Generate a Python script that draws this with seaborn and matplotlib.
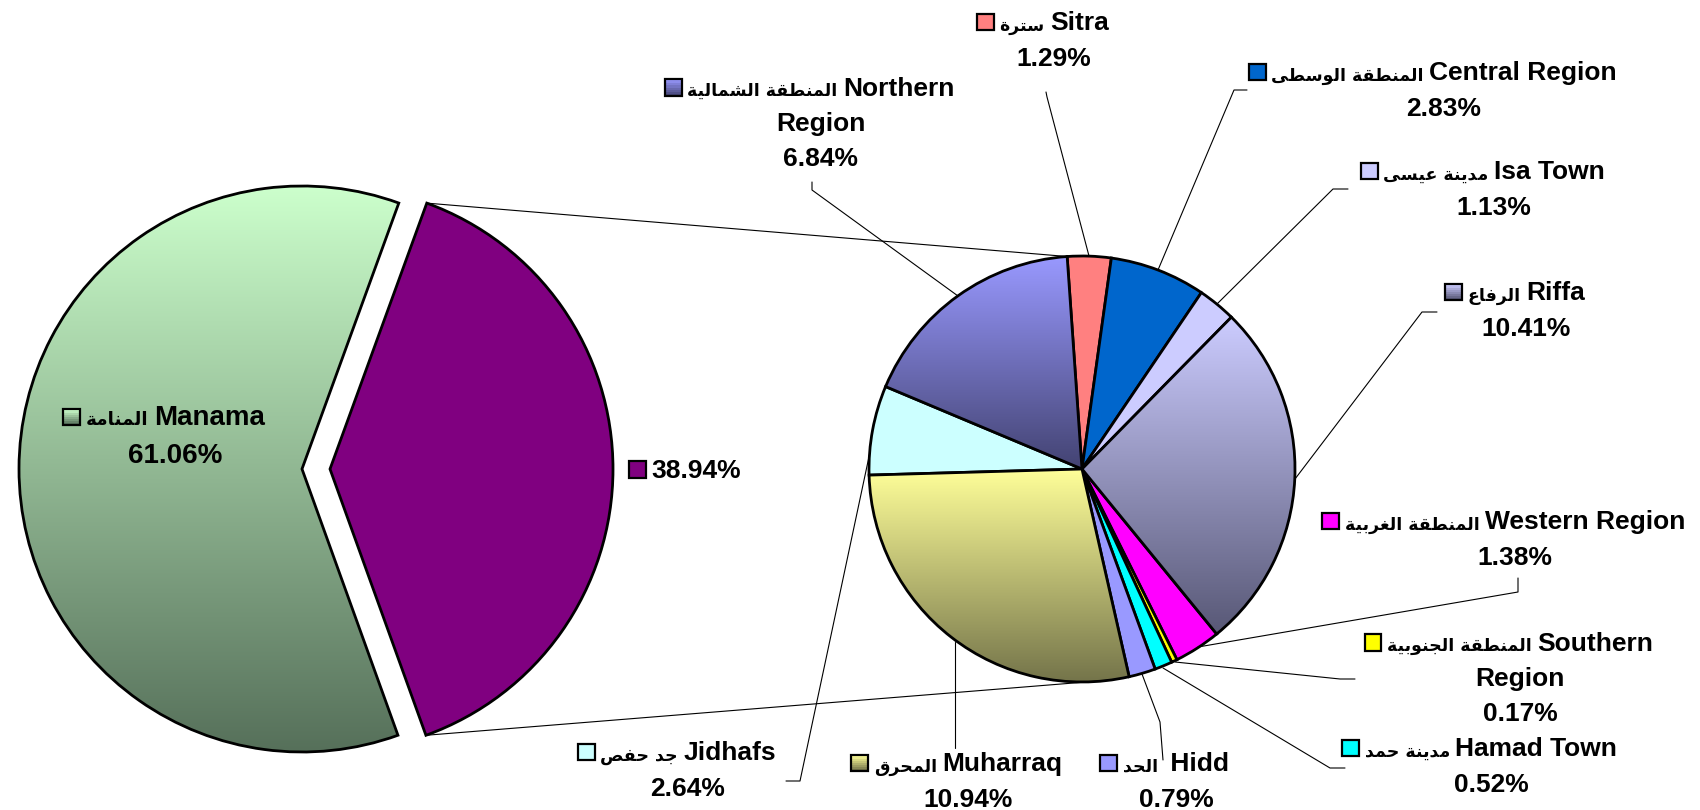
import numpy as np
import matplotlib
matplotlib.use('Agg')
import matplotlib.pyplot as plt
import seaborn as sns
from matplotlib.patches import Rectangle
from matplotlib.offsetbox import AnnotationBbox, DrawingArea, HPacker, TextArea, VPacker

# Data
main_names = ['Manama', '']
main_ar = ['المنامة', '']
main_values = [61.06, 38.94]

sub_names = ['Sitra', 'Central Region', 'Isa Town', 'Riffa', 'Western Region',
             'Southern\nRegion', 'Hamad Town', ' Hidd', 'Muharraq', 'Jidhafs',
             'Northern\nRegion']
sub_ar = ['سترة', 'المنطقة الوسطى', 'مدينة عيسى', 'الرفاع', 'المنطقة الغربية',
          'المنطقة الجنوبية', 'مدينة حمد', 'الحد', 'المحرق', 'جد حفص',
          'المنطقة الشمالية']
sub_values = [1.29, 2.83, 1.13, 10.41, 1.38, 0.17, 0.52, 0.79, 10.94, 2.64, 6.84]

# colours: plain colour or (top, bottom) gradient
main_colors = [('#ccffcc', '#56705a'), '#800080']
sub_colors = ['#ff8080', '#0066cc', '#ccccff', ('#ccccff', '#585876'), '#ff00ff',
              '#ffff00', '#00ffff', '#9999ff', ('#ffff99', '#74744a'), '#ccffff',
              ('#9999ff', '#434372')]

# Arabic shaping (matplotlib has no shaping / bidi)
AR_FORMS = {
    'ا': (0xFE8D, False), 'ب': (0xFE8F, True), 'ة': (0xFE93, False), 'ت': (0xFE95, True),
    'ج': (0xFE9D, True), 'ح': (0xFEA1, True), 'د': (0xFEA9, False), 'ر': (0xFEAD, False),
    'س': (0xFEB1, True), 'ش': (0xFEB5, True), 'ص': (0xFEB9, True), 'ط': (0xFEC1, True),
    'ع': (0xFEC9, True), 'غ': (0xFECD, True), 'ف': (0xFED1, True), 'ق': (0xFED5, True),
    'ل': (0xFEDD, True), 'م': (0xFEE1, True), 'ن': (0xFEE5, True), 'ه': (0xFEE9, True),
    'و': (0xFEED, False), 'ى': (0xFEEF, False), 'ي': (0xFEF1, True),
}


def shape_ar(s):
    out = []
    for i, ch in enumerate(s):
        if ch not in AR_FORMS:
            out.append(ch)
            continue
        base, dual = AR_FORMS[ch]
        prev = s[i - 1] if i > 0 else ''
        nxt = s[i + 1] if i + 1 < len(s) else ''
        jp = prev in AR_FORMS and AR_FORMS[prev][1]
        jn = dual and nxt in AR_FORMS
        if jp and jn:
            code = base + 3
        elif jp:
            code = base + 1
        elif jn:
            code = base + 2
        else:
            code = base
        out.append(chr(code))
    return ''.join(out[::-1])


W, H = 1700, 810
sns.set_theme(style='white')
FONT = ['Liberation Sans', 'DejaVu Sans']
plt.rcParams['font.family'] = FONT

fig = plt.figure(figsize=(W / 100, H / 100), dpi=100)
ax = fig.add_axes([0, 0, 1, 1])

wp = dict(edgecolor='black', linewidth=2.0)


def flat(c):
    return c if isinstance(c, str) else c[0]


def add_gradients(wedges, colors):
    for w, c in zip(wedges, colors):
        if isinstance(c, str):
            continue
        ext = w.get_path().get_extents()
        cmap = sns.blend_palette([c[0], c[1]], as_cmap=True)
        grad = np.linspace(0, 1, 256).reshape(-1, 1)
        im = ax.imshow(grad, cmap=cmap, extent=(ext.x0, ext.x1, ext.y0, ext.y1),
                       origin='upper', aspect='auto', interpolation='bilinear', zorder=1)
        im.set_clip_path(w)
        w.set_facecolor('none')
        w.set_zorder(2)


left_c = (302, H - 469)
right_c = (1082, H - 469)

# explode is in data units (px here)
w1, _ = ax.pie(main_values, colors=[flat(c) for c in main_colors], startangle=70,
               counterclock=True, explode=[0, 28], center=left_c, radius=283,
               wedgeprops=wp, frame=True)
add_gradients(w1, main_colors)

w2, _ = ax.pie(sub_values, colors=[flat(c) for c in sub_colors], startangle=94,
               counterclock=False, center=right_c, radius=213, wedgeprops=wp, frame=True)
add_gradients(w2, sub_colors)

# connector lines between the pies
other = w1[1]
r2 = 213
for a_left, a_right in [(other.theta2, 94), (other.theta1, -82)]:
    p0 = (other.center[0] + other.r * np.cos(np.radians(a_left)),
          other.center[1] + other.r * np.sin(np.radians(a_left)))
    p1 = (right_c[0] + r2 * np.cos(np.radians(a_right)),
          right_c[1] + r2 * np.sin(np.radians(a_right)))
    ax.plot([p0[0], p1[0]], [p0[1], p1[1]], color='black', lw=0.8, zorder=3)

# leader lines (screen px)
leaders = [
    [(1089, 256), (1047, 97), (1046, 92)],
    [(1158, 270), (1234, 90), (1247, 90)],
    [(1217, 304), (1333, 189), (1348, 189)],
    [(1295, 479), (1422, 312), (1437, 312)],
    [(1198, 647), (1518, 592), (1518, 578)],
    [(1175, 662), (1340, 679), (1355, 679)],
    [(1163, 668), (1330, 768), (1345, 768)],
    [(1142, 674), (1160, 722), (1163, 760)],
    [(955, 642), (955, 748)],
    [(870, 452), (800, 781), (786, 781)],
    [(958, 296), (812, 190), (812, 182)],
]
for pts in leaders:
    xs, ys = zip(*pts)
    ax.plot(xs, [H - y for y in ys], color='black', lw=0.8, zorder=3)


def marker(c, size=12):
    da = DrawingArea(size, size, 0, 0)
    if isinstance(c, str):
        da.add_artist(Rectangle((0, 0), size, size, fc=c, ec='black', lw=1.6))
    else:
        bands = sns.blend_palette([c[0], c[1]], n_colors=8)
        h = size / len(bands)
        for k, bc in enumerate(bands):
            da.add_artist(Rectangle((0, size - (k + 1) * h), size, h, fc=bc, ec='none'))
        da.add_artist(Rectangle((0, 0), size, size, fc='none', ec='black', lw=1.6))
    return da


def label(name, ar, value, color, xy, fs=19, msize=12):
    tp = dict(fontsize=fs, fontweight='bold', color='black', family=FONT)
    tp_ar = dict(fontsize=fs * 0.66, fontweight='bold', color='black', family=['DejaVu Sans'])
    lines = name.split('\n')
    rest = lines[1:] + [f'{value:.2f}%']
    kids_row = [marker(color, msize)]
    if ar:
        kids_row.append(TextArea(shape_ar(ar), textprops=tp_ar))
    kids_row.append(TextArea(lines[0] if name else rest.pop(), textprops=tp))
    kids_row.append(DrawingArea(msize, 1, 0, 0))
    row = HPacker(children=kids_row, align='baseline', pad=0, sep=4)
    kids = [row] + [TextArea(t, textprops=tp) for t in rest]
    box = VPacker(children=kids, align='center', pad=0, sep=8)
    ab = AnnotationBbox(box, (xy[0], H - xy[1]), xycoords='data', frameon=False,
                        box_alignment=(0.5, 0.5), pad=0, zorder=5)
    ax.add_artist(ab)


main_pos = [(175, 437), (696, 471)]
for n, a, v, c, p in zip(main_names, main_ar, main_values, main_colors, main_pos):
    label(n, a, v, c, p, fs=20 if n else 19)

sub_pos = [(1054, 41), (1444, 91), (1494, 190), (1526, 311), (1515, 540),
           (1520, 679), (1491, 767), (1176, 782), (968, 782), (688, 771), (821, 124)]
for n, a, v, c, p in zip(sub_names, sub_ar, sub_values, sub_colors, sub_pos):
    label(n, a, v, c, p)

ax.set_xlim(0, W)
ax.set_ylim(0, H)
ax.set_aspect('equal')
ax.axis('off')

fig.savefig('out.png', dpi=100, facecolor='white')
